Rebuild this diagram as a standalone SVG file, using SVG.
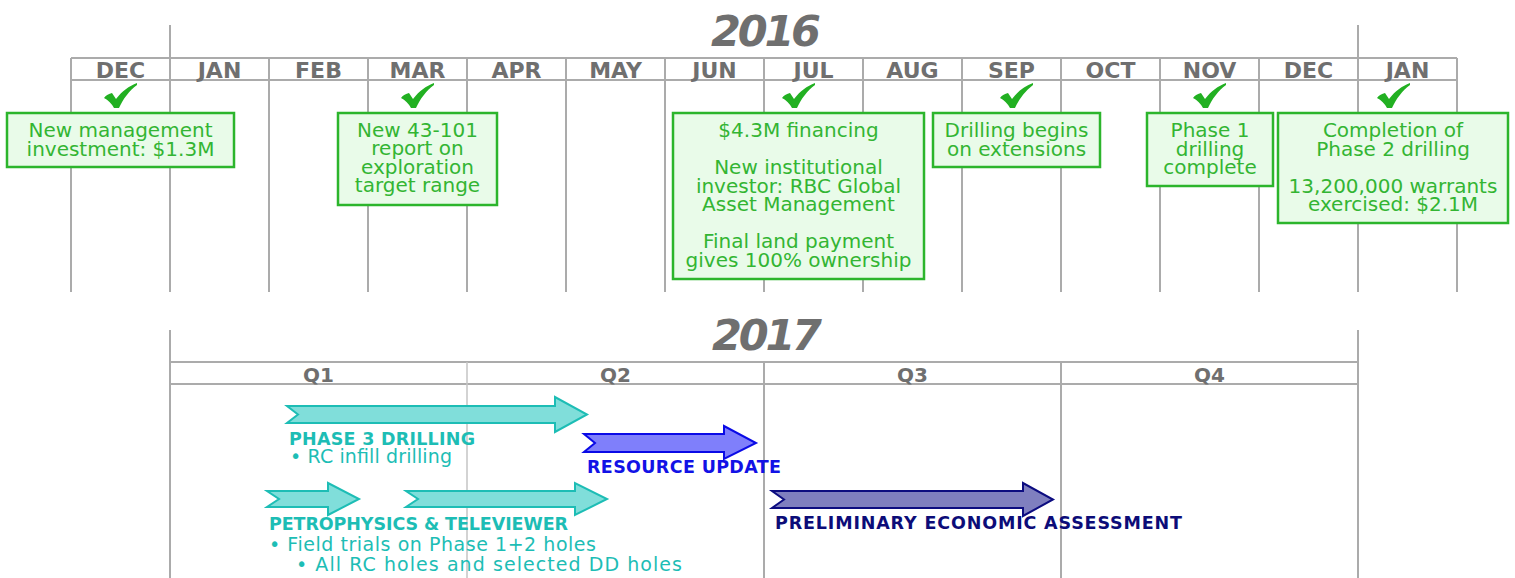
<svg xmlns="http://www.w3.org/2000/svg" width="1515" height="578" viewBox="0 0 1515 578">
<style>
.grid{stroke:#ababab;stroke-width:2;fill:none}
.gridl{stroke:#c4c4c4;stroke-width:1.5;fill:none}
.year{font-family:"DejaVu Sans",sans-serif;font-weight:bold;font-style:italic;font-size:43px;fill:#6f6f6f;text-anchor:middle}
.mon{font-family:"DejaVu Sans",sans-serif;font-weight:bold;font-size:22px;fill:#6f6f6f;text-anchor:middle}
.q{font-size:20px}
.box{fill:#e9fbe9;stroke:#2cb52c;stroke-width:2.5}
.bt{font-family:"DejaVu Sans",sans-serif;font-size:20px;fill:#33b533;text-anchor:middle}
.chk{fill:#22b022}
.cyan{fill:#80deda;stroke:#1dbdb5;stroke-width:2}
.blue{fill:#7f7ffb;stroke:#0a0ae6;stroke-width:2}
.navy{fill:#7f7fbf;stroke:#0c0c80;stroke-width:2}
.lb{font-family:"DejaVu Sans",sans-serif;font-weight:bold;font-size:17.5px}
.lr{font-family:"DejaVu Sans",sans-serif;font-size:19px}
.tc{fill:#1dbdb5}
.tb{fill:#1212e6}
.tn{fill:#0c0c78}
</style>
<defs>
<path id="check" d="M0,15 C2,12 5,11 8,10 L12,16 C18,8 25,3 33,0 L33,2 C25,8 19,16 15,25 L10,25 C8,21 4,17 0,15 Z"/>
</defs>

<g id="grid2016">
<path class="grid" d="M71,58H1457M71,80H1457M71,58V292M170,25V292M269,58V292M368,58V292M467,58V292M566,58V292M665,58V292M764,58V292M863,58V292M962,58V292M1061,58V292M1160,58V292M1259,58V292M1358,25V292M1457,58V292"/>
<text class="year" x="766" y="46" textLength="110">2016</text>
<text class="mon" x="120.5" y="78">DEC</text>
<text class="mon" x="219.5" y="78">JAN</text>
<text class="mon" x="318.5" y="78">FEB</text>
<text class="mon" x="417.5" y="78">MAR</text>
<text class="mon" x="516.5" y="78">APR</text>
<text class="mon" x="615.5" y="78">MAY</text>
<text class="mon" x="714.5" y="78">JUN</text>
<text class="mon" x="813.5" y="78">JUL</text>
<text class="mon" x="912.5" y="78">AUG</text>
<text class="mon" x="1011.5" y="78">SEP</text>
<text class="mon" x="1110.5" y="78">OCT</text>
<text class="mon" x="1209.5" y="78">NOV</text>
<text class="mon" x="1308.5" y="78">DEC</text>
<text class="mon" x="1407.5" y="78">JAN</text>
</g>

<g id="grid2017">
<path class="grid" d="M170,362H1358M170,384H1358M170,330V578M1358,330V578M764,362V578M1061,362V578"/>
<path class="gridl" d="M467,362V578"/>
<text class="year" x="767" y="350" textLength="110">2017</text>
<text class="mon q" x="318.5" y="382">Q1</text>
<text class="mon q" x="615.5" y="382">Q2</text>
<text class="mon q" x="912.5" y="382">Q3</text>
<text class="mon q" x="1209.5" y="382">Q4</text>
</g>

<g id="event-dec2015">
<use href="#check" class="chk" x="104" y="83"/>
<rect class="box" x="7" y="113" width="227" height="54"/>
<text class="bt"><tspan x="120.5" y="137">New management</tspan><tspan x="120.5" y="155.5">investment: $1.3M</tspan></text>
</g>

<g id="event-mar2016">
<use href="#check" class="chk" x="401" y="83"/>
<rect class="box" x="338" y="113" width="159" height="92"/>
<text class="bt"><tspan x="417.5" y="137">New 43-101</tspan><tspan x="417.5" y="155.3">report on</tspan><tspan x="417.5" y="173.6">exploration</tspan><tspan x="417.5" y="191.9">target range</tspan></text>
</g>

<g id="event-jul2016">
<use href="#check" class="chk" x="782" y="83"/>
<rect class="box" x="673" y="113" width="251" height="166"/>
<text class="bt"><tspan x="798.5" y="137">$4.3M financing</tspan><tspan x="798.5" y="174">New institutional</tspan><tspan x="798.5" y="192.5">investor: RBC Global</tspan><tspan x="798.5" y="211">Asset Management</tspan><tspan x="798.5" y="248">Final land payment</tspan><tspan x="798.5" y="266.5">gives 100% ownership</tspan></text>
</g>

<g id="event-sep2016">
<use href="#check" class="chk" x="1000" y="83"/>
<rect class="box" x="933" y="113" width="167" height="54"/>
<text class="bt"><tspan x="1016.5" y="137">Drilling begins</tspan><tspan x="1016.5" y="155.5">on extensions</tspan></text>
</g>

<g id="event-nov2016">
<use href="#check" class="chk" x="1193" y="83"/>
<rect class="box" x="1147" y="113" width="126" height="73"/>
<text class="bt"><tspan x="1210" y="137">Phase 1</tspan><tspan x="1210" y="155.5">drilling</tspan><tspan x="1210" y="174">complete</tspan></text>
</g>

<g id="event-jan2017">
<use href="#check" class="chk" x="1377" y="83"/>
<rect class="box" x="1278" y="113" width="230" height="110"/>
<text class="bt"><tspan x="1393" y="137">Completion of</tspan><tspan x="1393" y="155.5">Phase 2 drilling</tspan><tspan x="1393" y="192.5">13,200,000 warrants</tspan><tspan x="1393" y="211">exercised: $2.1M</tspan></text>
</g>

<g id="phase3-drilling">
<polygon class="cyan" points="287,406 555,406 555,397 587,414.5 555,432 555,423 287,423 298,414.5"/>
<text class="lb tc" x="289" y="445" textLength="186">PHASE 3 DRILLING</text>
<text class="lr tc" x="290" y="463" textLength="162">• RC infill drilling</text>
</g>

<g id="resource-update">
<polygon class="blue" points="584,434 724,434 724,426 756,443 724,459 724,452 584,452 595,443"/>
<text class="lb tb" x="587" y="473" textLength="194">RESOURCE UPDATE</text>
</g>

<g id="petrophysics">
<polygon class="cyan" points="267,491 328,491 328,483 359,499 328,515 328,507 267,507 279,499"/>
<polygon class="cyan" points="406,491 575,491 575,483 607,499 575,515 575,507 406,507 418,499"/>
<text class="lb tc" x="269" y="530" textLength="299">PETROPHYSICS &amp; TELEVIEWER</text>
<text class="lr tc" x="269" y="551" textLength="327">• Field trials on Phase 1+2 holes</text>
<text class="lr tc" x="296" y="571" textLength="386">• All RC holes and selected DD holes</text>
</g>

<g id="pea">
<polygon class="navy" points="772,491 1023,491 1023,483 1053,499.5 1023,516 1023,508 772,508 784,499.5"/>
<text class="lb tn" x="775" y="529" textLength="407">PRELIMINARY ECONOMIC ASSESSMENT</text>
</g>

<g id="connectors"></g>
</svg>
